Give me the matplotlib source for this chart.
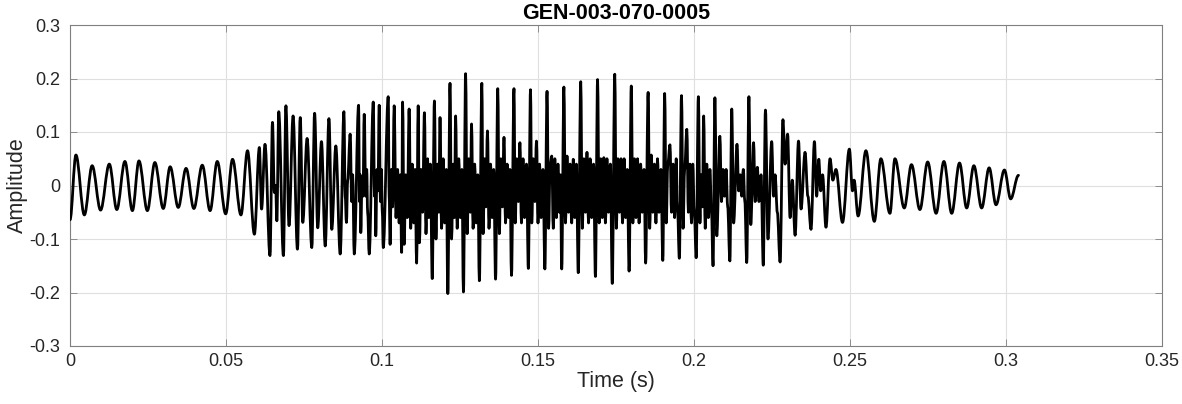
import numpy as np
import matplotlib
matplotlib.use("Agg")
import matplotlib.pyplot as plt
from matplotlib.ticker import FixedLocator, FixedFormatter
from matplotlib.path import Path
from matplotlib.patches import PathPatch

# ---- data: extrema of the waveform (time in ms, amplitude) ----
lead_t = [0.0, 1.9, 4.6, 7.1, 9.8, 12.6, 15.0, 17.6, 20.0, 22.1, 24.8, 27.2, 29.9,
          32.1, 34.7, 37.2, 39.7, 42.4, 44.9, 47.2, 49.9, 52.1, 54.8]
lead_a = [-0.064, 0.057, -0.055, 0.037, -0.046, 0.040, -0.045, 0.045, -0.047, 0.046,
          -0.047, 0.043, -0.043, 0.035, -0.041, 0.032, -0.043, 0.038, -0.047, 0.045,
          -0.053, 0.049, -0.055]

build_t = [56.9, 59.1, 60.7, 61.4, 62.5, 64.1, 64.9, 65.5, 65.9, 66.3, 66.9, 68.4,
           69.2, 70.2, 71.5, 72.9, 73.8, 74.6, 76.0, 77.5, 78.4, 79.4, 80.6, 81.8,
           83.0, 83.9, 85.2, 86.6, 87.8, 88.2, 88.6, 89.0, 89.8, 90.3, 90.6, 91.1,
           92.5, 92.8, 93.0, 93.2, 93.6, 93.9, 94.3, 94.8, 95.1, 95.4, 95.9, 97.2,
           97.6, 97.8, 98.0, 98.4, 98.7, 99.1, 99.5, 99.8, 100.1, 100.4, 102.0, 102.3,
           102.6, 103.0, 103.4, 103.9, 104.5, 105.0, 105.5, 105.9]
build_a = [0.065, -0.091, 0.071, -0.044, 0.077, -0.131, 0.118, -0.013, 0.000, -0.066,
           0.138, -0.131, 0.149, -0.075, 0.130, -0.119, 0.127, -0.069, 0.088, -0.116,
           0.135, -0.079, 0.082, -0.113, 0.125, -0.082, 0.074, -0.128, 0.138, -0.020,
           -0.069, 0.010, 0.096, -0.030, 0.020, -0.128, 0.150, -0.030, 0.020, -0.088,
           0.010, -0.020, 0.133, -0.020, 0.030, -0.050, -0.128, 0.156, -0.020, 0.020,
           -0.094, 0.030, -0.010, 0.150, -0.030, 0.030, -0.050, -0.116, 0.166, -0.020,
           -0.110, 0.030, -0.040, 0.149, -0.060, 0.030, -0.070, 0.020]

mid_t = [106.3, 106.6, 107.1, 107.6, 108.1, 108.7, 109.2, 109.7, 110.2, 110.6,
         111.1, 111.6, 112.0, 112.5, 113.0, 113.6, 114.1, 114.6, 115.0, 115.5,
         116.1, 116.8, 117.3, 117.8, 118.2, 118.6, 119.1, 119.6, 120.1, 120.6,
         121.1, 121.8, 122.3, 122.8, 123.2, 123.6, 124.1, 124.6, 125.1, 125.6,
         126.1, 126.8, 127.3, 127.8, 128.3, 128.7, 129.2, 129.7, 130.2, 130.7,
         131.2, 132.0, 132.4, 132.9, 133.3, 133.8, 134.3, 134.8, 135.3, 135.8,
         136.4, 137.1, 137.6, 138.1, 138.6, 139.1, 139.6, 140.1, 140.6, 141.0,
         141.5, 142.3, 142.7, 143.2, 143.7, 144.2, 144.7, 145.2, 145.7, 146.3,
         146.9, 147.6, 148.0, 148.5, 149.0, 149.5, 150.0, 150.5, 151.0, 151.6,
         152.2, 152.9, 153.4, 153.9, 154.4, 154.9, 155.4, 155.9, 156.4, 156.9, 157.2,
         157.6, 158.3, 158.8, 159.3, 159.8, 160.3, 160.8, 161.3, 161.8, 162.3,
         162.9, 163.7, 164.2, 164.7, 165.2, 165.7, 166.2, 166.7, 167.2, 167.8,
         168.4, 169.1, 169.6, 170.1, 170.6, 171.1, 171.6, 172.1, 172.6, 173.2,
         173.8, 174.6, 175.1, 175.6, 176.1, 176.6, 177.1, 177.6, 178.1, 178.6,
         179.2, 179.9, 180.4, 180.9, 181.4, 181.9, 182.4, 182.9, 183.4, 184.0,
         184.5, 185.3, 185.8, 186.3, 186.8, 187.3, 187.8, 188.3, 188.8, 189.4,
         190.0, 190.6, 191.1, 191.6, 192.3, 192.8, 193.3, 193.8, 194.3, 194.7,
         195.3, 196.0, 196.5, 197.0, 197.7, 198.2, 198.7, 199.2, 199.6, 200.1,
         200.7, 201.4, 201.9, 202.3, 202.7, 203.1, 203.6, 204.1, 204.6, 205.1, 205.6]
mid_a = [-0.125, 0.156, -0.110, 0.020, -0.060, 0.143, -0.080, 0.040, -0.070, 0.030,
         -0.145, 0.149, -0.107, 0.030, -0.050, 0.136, -0.090, 0.050, -0.060, 0.040,
         -0.174, 0.158, -0.100, 0.040, -0.050, 0.127, -0.080, 0.050, -0.070, 0.030,
         -0.202, 0.191, -0.100, 0.040, -0.060, 0.130, -0.080, 0.050, -0.060, 0.030,
         -0.199, 0.209, -0.090, 0.050, -0.050, 0.115, -0.080, 0.040, -0.070, 0.020,
         -0.178, 0.191, -0.090, 0.050, -0.040, 0.102, -0.080, 0.040, -0.060, 0.030,
         -0.175, 0.181, -0.090, 0.050, -0.040, 0.090, -0.070, 0.040, -0.060, 0.030,
         -0.168, 0.181, -0.070, 0.050, -0.030, 0.080, -0.070, 0.050, -0.060, 0.040,
         -0.155, 0.179, -0.070, 0.050, -0.030, 0.083, -0.070, 0.040, -0.060, 0.030,
         -0.156, 0.176, -0.080, 0.040, 0.055, -0.080, 0.050, -0.060, 0.040, -0.050, 0.020,
         -0.156, 0.184, -0.070, 0.055, -0.050, 0.040, -0.070, 0.049, -0.060, 0.040,
         -0.163, 0.194, -0.080, 0.050, -0.050, 0.062, -0.070, 0.050, -0.060, 0.040,
         -0.170, 0.198, -0.070, 0.050, -0.060, 0.052, -0.070, 0.050, -0.050, 0.040,
         -0.183, 0.208, -0.080, 0.050, -0.050, 0.050, -0.070, 0.050, -0.060, 0.030,
         -0.160, 0.186, -0.070, 0.050, -0.060, 0.050, -0.070, 0.040, -0.050, 0.030,
         -0.145, 0.174, -0.080, 0.057, -0.050, 0.040, -0.070, 0.050, -0.050, 0.030,
         -0.140, 0.172, -0.070, 0.040, 0.076, -0.050, 0.040, -0.060, 0.050, -0.040,
         -0.136, 0.168, -0.080, 0.030, 0.105, -0.050, 0.040, -0.070, 0.040, -0.050,
         -0.135, 0.166, -0.070, 0.020, -0.040, 0.130, -0.080, 0.040, -0.060, 0.030, -0.050]

decay_t = [206.1, 206.7, 207.3, 208.3, 208.8, 209.3, 209.8, 210.3, 210.8, 211.5,
           212.1, 212.7, 213.8, 214.3, 214.8, 215.3, 215.8, 216.3, 216.9, 217.6,
           218.2, 219.1, 219.6, 220.3, 220.8, 221.5, 222.2, 222.9, 223.7, 224.9,
           225.5, 226.0, 226.7, 227.6, 228.5, 229.2, 230.0, 230.8, 231.5, 232.4,
           233.5, 234.3, 235.6, 236.5, 237.5, 238.6, 239.3, 240.0, 240.6, 241.2,
           242.3, 243.6, 244.5, 245.5, 247.6, 249.8, 250.8, 251.3, 252.6, 255.1]
decay_a = [-0.150, 0.164, -0.094, 0.092, -0.030, 0.030, -0.020, 0.030, -0.040, -0.141,
           0.143, -0.070, 0.077, -0.010, 0.020, -0.020, 0.030, -0.030, -0.144, 0.166,
           -0.073, 0.080, -0.030, 0.034, -0.030, 0.020, -0.149, 0.141, -0.100, 0.082,
           -0.020, 0.020, -0.050, -0.143, 0.123, 0.040, 0.096, -0.060, 0.010, -0.093,
           0.083, -0.044, 0.062, -0.020, -0.082, 0.082, -0.020, 0.049, -0.010, 0.020,
           -0.078, 0.050, 0.010, 0.030, -0.069, 0.068, -0.010, 0.010, -0.057, 0.065]

tail_t = [257.8, 259.9, 262.8, 264.4, 267.4, 269.7, 272.4, 274.9, 277.6, 280.1,
          282.6, 285.1, 287.4, 289.7, 292.2, 294.6, 296.8, 299.5, 301.5, 304.0]
tail_a = [-0.067, 0.050, -0.052, 0.050, -0.042, 0.039, -0.045, 0.044, -0.052, 0.045,
          -0.052, 0.042, -0.042, 0.037, -0.042, 0.033, -0.036, 0.029, -0.025, 0.019]

x_ticks = [0, 0.05, 0.1, 0.15, 0.2, 0.25, 0.3, 0.35]
x_labels = ["0", "0.05", "0.1", "0.15", "0.2", "0.25", "0.3", "0.35"]
y_ticks = [-0.3, -0.2, -0.1, 0, 0.1, 0.2, 0.3]
y_labels = ["-0.3", "-0.2", "-0.1", "0", "0.1", "0.2", "0.3"]
title = "GEN-003-070-0005"

# ---- assemble ----
t = np.array(lead_t + build_t + mid_t + decay_t + tail_t) / 1000.0
a = np.array(lead_a + build_a + mid_a + decay_a + tail_a)

plt.rcParams['font.family'] = ['Liberation Sans', 'DejaVu Sans']
fig = plt.figure(figsize=(11.82, 4.04), dpi=100)
ax = fig.add_axes([70/1182, 1-346/404, 1092/1182, 321/404])

# Draw the curve through the read extrema as smooth Bezier segments
# (horizontal tangents at each extremum), rendered by matplotlib's path machinery.
verts = [(t[0], a[0])]
codes = [Path.MOVETO]
k = 0.36
for i in range(len(t) - 1):
    d = t[i + 1] - t[i]
    verts += [(t[i] + k * d, a[i]), (t[i + 1] - k * d, a[i + 1]), (t[i + 1], a[i + 1])]
    codes += [Path.CURVE4, Path.CURVE4, Path.CURVE4]
wave = PathPatch(Path(verts, codes), facecolor='none', edgecolor='black',
                 linewidth=2.0, joinstyle='round', capstyle='round', zorder=3)
ax.add_patch(wave)

ax.set_xlim(0, 0.35)
ax.set_ylim(-0.3, 0.3)
ax.xaxis.set_major_locator(FixedLocator(x_ticks))
ax.xaxis.set_major_formatter(FixedFormatter(x_labels))
ax.yaxis.set_major_locator(FixedLocator(y_ticks))
ax.yaxis.set_major_formatter(FixedFormatter(y_labels))

axc = '#262626'
ax.grid(True, color='#dfdfdf', linewidth=0.8)
ax.set_axisbelow(True)
for s in ax.spines.values():
    s.set_color('#808080')
    s.set_linewidth(0.8)
ax.tick_params(direction='in', length=5, width=0.6, colors='#808080',
               labelcolor=axc, labelsize=13, top=True, right=True)
ax.tick_params(axis='y', pad=7)
ax.tick_params(axis='x', pad=5)

ax.set_xlabel("Time (s)", fontsize=15.5, color=axc, labelpad=1)
ax.set_ylabel("Amplitude", fontsize=15.5, color=axc, labelpad=1)
ax.set_title(title, fontsize=15.5, fontweight='bold', color='#000000', pad=4)

fig.savefig("out.png", dpi=100)
